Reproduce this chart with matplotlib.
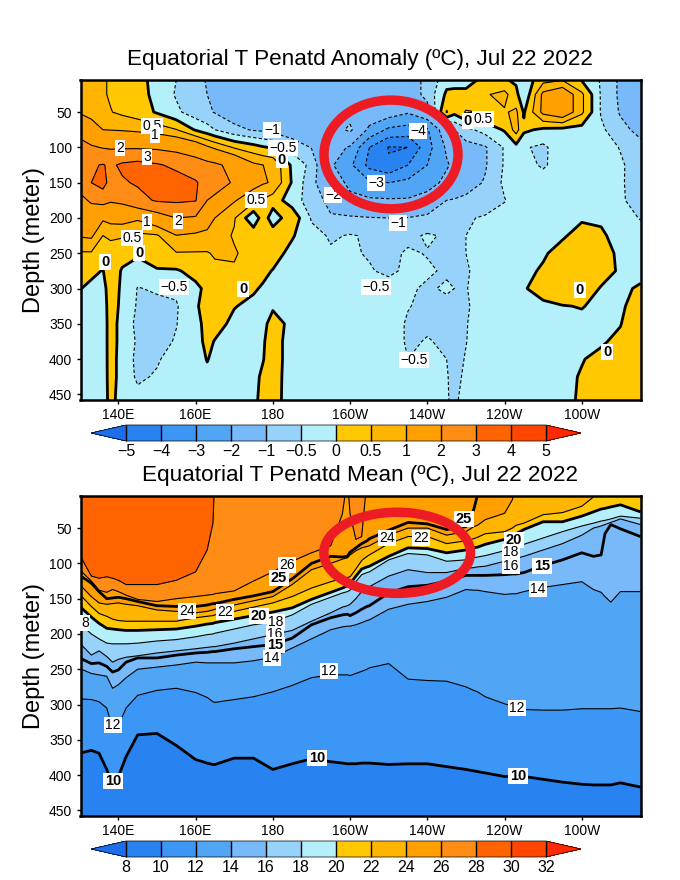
import numpy as np
import matplotlib
matplotlib.use('Agg')
import matplotlib.pyplot as plt
from matplotlib.patches import Ellipse

plt.rcParams['font.family'] = ['Liberation Sans', 'DejaVu Sans']

# anomaly section, one list per depth
anom_lon = [130,133,136,138,141,145,150,155,160,163,165,170,175,177.5,180,185,190,195,200,205,210,215,220,225,227,230,235,240,243,245,250,255,260,265,270,275.2]
anom_depth = [4,25,50,75,100,125,150,175,200,225,250,275,300,325,350,375,400,425,458]
a004 = [.7,.7,.55,.45,.3,.1,-.1,-.5,-.8,-1.05,-1.2,-1.4,-1.5,-1.55,-1.6,-1.6,-1.6,-1.6,-1.5,-1.5,-1.4,-1.2,-.9,-.2,-.15,-.15,.1,.05,-.1,-.3,.3,.45,-.05,-.55,-1.1,-1.3]
a025 = [.8,.8,.55,.45,.35,.2,-.15,-.55,-.8,-1.0,-1.3,-1.4,-1.5,-1.55,-1.6,-1.6,-1.6,-1.6,-1.5,-1.6,-1.5,-1.3,-.85,.1,.1,.1,.45,.65,.15,-.45,1.15,1.5,.6,-.55,-1.1,-1.3]
a050 = [.95,.8,.65,.52,.4,.25,-.05,-.4,-.75,-.9,-1.03,-1.3,-1.4,-1.45,-1.5,-1.5,-1.5,-1.5,-1.3,-1.4,-1.45,-1.9,-1.2,.55,.15,.55,.45,.45,.6,-.05,1.15,1.5,.6,-.55,-1.05,-1.3]
a075 = [1.6,1.3,1.0,.98,.95,.88,.75,.52,-.05,-.3,-.5,-.85,-1.05,-1.1,-1.2,-1.3,-1.3,-1.4,-.85,-2.2,-3.2,-3.4,-3.1,-1.3,-1.0,-.65,-.3,.05,.7,.1,-.1,-.15,-.2,-.4,-.85,-1.15]
a100 = [2.4,2.1,1.95,1.9,1.9,1.9,1.85,1.7,1.5,1.1,.9,.45,.2,.05,-.05,-.7,-1.02,-1.6,-2.1,-4.0,-5.05,-5.0,-3.4,-1.85,-1.5,-1.2,-1.05,-.45,-.15,-.45,-.6,-.2,-.15,-.25,-.53,-.85]
a125 = [2.6,2.9,3.05,2.85,3.15,3.3,3.1,2.8,2.4,2.25,2.15,1.75,1.1,1.0,.9,-.1,-.65,-1.85,-2.8,-4.3,-4.9,-4.0,-3.0,-2.1,-1.8,-1.45,-1.05,-.45,-.3,-.25,-.6,-.15,-.1,-.2,-.43,-.75]
a150 = [2.3,3.0,3.4,2.6,2.9,3.1,3.3,3.4,3.1,2.6,2.4,1.9,1.2,1.05,.95,-.05,-.85,-1.5,-2.2,-2.85,-3.0,-2.75,-2.4,-1.75,-1.55,-1.25,-.95,-.4,-.3,-.25,-.15,-.1,-.1,-.15,-.45,-.7]
a175 = [1.8,2.1,2.3,2.1,2.2,2.7,3.1,3.15,3.05,2.0,1.8,1.05,.65,.45,.25,-.25,-.75,-1.15,-1.8,-1.85,-1.9,-1.9,-1.6,-1.0,-.95,-.88,-.75,-.52,-.35,-.3,-.1,-.1,-.1,-.1,-.45,-.65]
a200 = [1.5,1.55,1.1,1.2,1.25,1.1,1.5,2.0,1.9,1.4,1.0,.55,-.4,.3,-.3,.35,-.55,-.95,-.9,-.97,-1.0,-.98,-.85,-.7,-.68,-.55,-.45,-.35,-.3,-.25,-.2,-.15,-.05,-.1,-.35,-.52]
a225 = [1.05,1.1,.5,.6,.55,.4,.45,.98,.85,.8,.75,.45,.35,.35,.3,.05,-.35,-.55,-.47,-.55,-.7,-.6,-.45,-.55,-.55,-.5,-.4,-.3,-.22,-.2,-.15,-.05,.15,.1,-.25,-.35]
a250 = [.45,.45,.3,.25,.2,.1,.3,.47,.47,.47,.55,.55,.3,.3,.2,-.15,-.3,-.45,-.47,-.52,-.6,-.45,-.52,-.6,-.58,-.5,-.35,-.3,-.2,-.15,-.05,.15,.25,.3,-.15,-.3]
a275 = [.15,.1,-.02,.3,-.05,-.3,-.05,-.05,.15,.3,.4,.45,.25,.1,-.02,-.2,-.3,-.4,-.45,-.48,-.55,-.45,-.45,-.55,-.55,-.55,-.3,-.25,-.15,-.1,.05,.3,.4,.3,-.1,-.25]
a300 = [.02,-.1,-.2,.3,-.1,-.52,-.45,-.4,-.1,.1,.25,.3,.05,-.05,-.1,-.2,-.25,-.3,-.35,-.35,-.4,-.45,-.55,-.45,-.5,-.52,-.3,-.2,-.1,-.02,.1,.35,.4,-.05,-.15,.1]
a325 = [-.15,-.25,-.3,.3,-.15,-.55,-.6,-.55,-.05,.15,.25,.02,-.1,-.1,-.05,-.15,-.2,-.25,-.3,-.3,-.35,-.48,-.6,-.6,-.6,-.55,-.3,-.2,-.18,-.15,-.05,-.02,.02,-.1,-.1,.3]
a350 = [-.2,-.3,-.35,.3,-.25,-.6,-.65,-.52,-.1,.1,.15,-.1,-.12,-.1,.15,-.1,-.15,-.2,-.25,-.25,-.3,-.55,-.55,-.6,-.6,-.52,-.3,-.2,-.18,-.15,-.1,-.1,-.1,-.02,-.02,.4]
a375 = [-.2,-.3,-.35,.3,-.25,-.55,-.7,-.45,-.15,.1,-.02,-.1,-.2,-.05,.25,-.25,-.2,-.2,-.25,-.25,-.3,-.55,-.48,-.55,-.6,-.51,-.3,-.2,-.18,-.15,-.1,-.1,-.05,-.05,.1,.45]
a400 = [-.2,-.25,-.3,.25,-.25,-.6,-.55,-.3,-.2,.02,-.1,-.1,-.2,-.02,.3,-.3,-.2,-.2,-.2,-.2,-.3,-.5,-.35,-.5,-.6,-.48,-.3,-.2,-.15,-.15,-.1,-.1,-.02,.1,.3,.5]
a425 = [-.2,-.2,-.25,.2,-.2,-.58,-.45,-.2,-.15,-.1,-.1,-.1,-.15,.1,.35,-.4,-.2,-.2,-.2,-.2,-.25,-.3,-.3,-.48,-.58,-.45,-.25,-.2,-.15,-.15,-.1,-.1,.03,.2,.35,.5]
a458 = [-.2,-.2,-.3,.2,-.3,-.35,-.3,-.2,-.15,-.1,-.1,-.1,-.15,.2,.4,-.5,-.2,-.2,-.2,-.2,-.2,-.25,-.3,-.48,-.55,-.4,-.2,-.15,-.15,-.1,-.1,-.1,.05,.3,.4,.4]
anom_rows = [a004,a025,a050,a075,a100,a125,a150,a175,a200,a225,a250,a275,a300,a325,a350,a375,a400,a425,a458]

# mean section, depth of each isotherm at each longitude (negative = above the surface)
mean_lon = [130,133,135,137,138.5,140,142,145,150,155,160,163,164.5,165,170,175,180,185,190,195,198,199.3,200,201.5,203,204.4,205,210,215,220,225,230,232,233,235,240,242,243,245,250,255,260,263,265,266,267.5,270,275.2]
iso_temp = [29,28,26,25,24,22,20,18,16,15,14,12,10,8]
iso29 = [-60]*48
iso28 = [88,118,121,119,121,124,130,130,130,124,112,81,43] + [-30]*35
iso26 = [109,125,138,141,137,140,145,151,154,150,147,145,144,143,139,125,112,97,85,75,30,-20,30,66,62,-20] + [-20]*22
iso25 = [117,128,140,150,149,148,150,154,160,161,161,159,157,157,151,146,140,122,100,90,91,90,84,78,72,68,65,53,42,44,52,48,24,3] + [-12]*14
iso24 = [130,147,156,158,157,156,158,160,166,168,170,168,166,165,159,153,147,130,109,100,94,92,88,82,78,76,75,60,50,50,60,55,48,46,38,29,10] + [-8]*11
iso22 = [144,161,171,175,179,181,182,182,182,182,177,175,174,173,168,162,156,147,135,126,121,120,119,108,96,90,88,72,62,62,72,68,65,63,58,55,50,46,43,31,28,19,6,-5,-5,-5,-5,-5]
iso20 = [161,176,185,192,193,194,195,195,194,193,189,186,185,184,179,174,169,163,151,141,135,132,129,118,108,105,104,90,78,79,85,81,78,77,73,66,61,58,52,41,41,33,27,23,22,20,17,27]
iso18 = [185,200,207,213,214,214,214,213,210,208,204,201,200,199,193,187,183,173,158,148,142,140,138,126,116,113,112,95,86,88,97,95,92,91,89,82,78,76,73,64,55,47,43,40,39,37,33,36]
iso16 = [213,230,224,232,240,236,233,231,227,224,221,219,218,218,213,207,201,195,182,170,162,160,158,150,140,135,133,118,109,113,113,107,106,105,104,97,95,93,90,81,72,60,50,47,45,42,37,45]
iso15 = [234,242,241,246,254,251,240,234,234,230,227,226,225,225,221,218,215,206,187,177,173,172,174,170,165,161,160,142,133,131,125,117,117,117,117,116,115,115,113,103,95,85,90,88,58,45,51,62]
iso14 = [249,256,258,260,277,272,262,250,247,244,240,241,241,241,241,238,233,220,207,194,190,189,189,187,184,181,180,165,158,154,148,137,138,138,140,144,143,143,140,134,130,126,137,141,147,155,140,140]
iso12 = [292,293,296,305,335,330,305,287,280,277,283,290,296,297,293,289,282,273,262,258,258,258,259,256,253,250,248,242,264,266,267,275,280,282,289,299,302,303,307,308,308,306,306,306,306,306,305,310]
iso10 = [369,365,369,392,415,402,374,343,341,358,378,383,385,385,376,376,392,384,377,381,383,384,384,384,383,383,383,385,384,384,388,392,394,395,397,402,402,402,402,406,410,413,414,414,414,414,411,417]
iso08 = [600]*48
iso_rows = [iso29,iso28,iso26,iso25,iso24,iso22,iso20,iso18,iso16,iso15,iso14,iso12,iso10,iso08]

anom_levels = [-5,-4,-3,-2,-1,-.5,0,.5,1,2,3,4,5]
anom_ticks = ['\u22125','\u22124','\u22123','\u22122','\u22121','\u22120.5','0','0.5','1','2','3','4','5']
mean_levels = [8,10,12,14,16,18,20,22,24,26,28,30,32]
mean_ticks = ['8','10','12','14','16','18','20','22','24','26','28','30','32']
colors = ['#1e6eeb','#2882f0','#3c96f5','#50a5f5','#78b9fa','#96d2fa','#b4f0fa',
          '#ffc800','#ffb400','#ffa000','#ff8c14','#ff6400','#ff4600','#ff2800']

W, H = 680, 880
xticks = [140,160,180,200,220,240,260]
xticklabels = ['140E','160E','180','160W','140W','120W','100W']
yticks = [50,100,150,200,250,300,350,400,450]

# contour labels: pixel x, pixel y, text, bold
anom_labels = [(152,126,'0.5',0),(155,135,'1',0),(120,148,'2',0),(147,157,'3',0),(272,130,'\u22121',0),
               (283,148,'\u22120.5',0),(282,160,'0',1),(256,200,'0.5',0),(147,222,'1',0),(178,221,'2',0),
               (132,238,'0.5',0),(139,253,'0',1),(105,262,'0',1),(174,287,'\u22120.5',0),(243,289,'0',1),
               (333,195,'\u22122',0),(418,131,'\u22124',0),(376,183,'\u22123',0),(398,223,'\u22121',0),
               (376,287,'\u22120.5',0),(414,360,'\u22120.5',0),(468,121,'0',1),(483,119,'0.5',0),
               (580,290,'0',1),(607,352,'0',1)]
mean_labels = [(287,565,'26',0),(279,578,'25',1),(187,611,'24',0),(225,612,'22',0),(259,616,'20',1),
               (276,622,'18',0),(275,634,'16',0),(275,645,'15',1),(272,658,'14',0),(329,671,'12',0),
               (85,623,'8',0),(387,538,'24',0),(421,538,'22',0),(464,519,'25',1),(514,540,'20',1),
               (511,552,'18',0),(511,566,'16',0),(542,566,'15',1),(538,589,'14',0),(113,725,'12',0),
               (113,781,'10',1),(317,758,'10',1),(517,708,'12',0),(518,776,'10',1)]


def pixel_box(x0, y0, x1, y1):
    return [x0 / W, 1 - y1 / H, (x1 - x0) / W, (y1 - y0) / H]


def setup_axis(ax, title, title_y):
    ax.set_xlim(130.2, 275.2)
    ax.set_ylim(458, 4.5)
    ax.set_xticks(xticks)
    ax.set_xticklabels(xticklabels, fontsize=10)
    ax.set_yticks(yticks)
    ax.set_yticklabels([str(y) for y in yticks], fontsize=10)
    ax.tick_params(length=3, width=1, pad=3)
    for sp in ax.spines.values():
        sp.set_linewidth(1.8)
    ax.set_ylabel('Depth (meter)', fontsize=17, labelpad=3)
    fig.text(360 / W, 1 - title_y / H, title, fontsize=16.2, ha='center', va='center')


def put_labels(ax, labels):
    for x, y, s, bold in labels:
        ax.text(x / W, 1 - y / H, s, transform=fig.transFigure, ha='center', va='center',
                fontsize=10.5 if bold else 10, fontweight='bold' if bold else 'normal', zorder=5,
                bbox=dict(fc='white', ec='none', pad=1))


def add_bar(cf, box, ticks):
    cax = fig.add_axes(box)
    cb = fig.colorbar(cf, cax=cax, orientation='horizontal', ticks=cf.levels,
                      drawedges=True, extendfrac=.0835)
    cb.ax.set_xticklabels(ticks, fontsize=11.5)
    cb.ax.tick_params(length=0, pad=2)
    cb.outline.set_linewidth(.5)
    cb.dividers.set_linewidth(1)
    return cb


fig = plt.figure(figsize=(W / 100, H / 100), dpi=100)

# top panel
ax1 = fig.add_axes(pixel_box(80.5, 80, 640.5, 400))
z1 = np.array(anom_rows)
cf1 = ax1.contourf(anom_lon, anom_depth, z1, levels=anom_levels, colors=colors, extend='both')
ax1.contour(anom_lon, anom_depth, z1, levels=[-5,-4,-3,-2,-1,-.5], colors='k',
            linewidths=.8, linestyles=[(0, (3, 2))])
ax1.contour(anom_lon, anom_depth, z1, levels=[.5,1,2,3,4,5], colors='k', linewidths=.8, linestyles='solid')
ax1.contour(anom_lon, anom_depth, z1, levels=[0], colors='k', linewidths=2, linestyles='solid')
setup_axis(ax1, 'Equatorial T Penatd Anomaly (\u00baC), Jul 22 2022', 59)
put_labels(ax1, anom_labels)
ax1.add_patch(Ellipse((210.6, 110), 34.7, 154, fill=False, ec='#ed1c24', lw=6.8, zorder=6, clip_on=False))
add_bar(cf1, pixel_box(91, 425, 581, 441), anom_ticks)

# bottom panel
ax2 = fig.add_axes(pixel_box(80.5, 496, 640.5, 816))
x2 = np.tile(mean_lon, (len(iso_rows), 1))
y2 = np.array(iso_rows, dtype=float)
z2 = np.tile(np.array(iso_temp, dtype=float)[:, None], (1, len(mean_lon)))
cf2 = ax2.contourf(x2, y2, z2, levels=mean_levels, colors=colors, extend='both')
ax2.contour(x2, y2, z2, levels=[12,14,16,18,22,24,26,28], colors='k', linewidths=.8, linestyles='solid')
ax2.contour(x2, y2, z2, levels=[10,15,20,25], colors='k', linewidths=2, linestyles='solid')
setup_axis(ax2, 'Equatorial T Penatd Mean (\u00baC), Jul 22 2022', 475)
put_labels(ax2, mean_labels)
ax2.add_patch(Ellipse((212.2, 85), 38, 115, fill=False, ec='#ed1c24', lw=6.8, zorder=6, clip_on=False))
add_bar(cf2, pixel_box(91, 841, 581, 857), mean_ticks)

fig.savefig('out.png', dpi=100)
